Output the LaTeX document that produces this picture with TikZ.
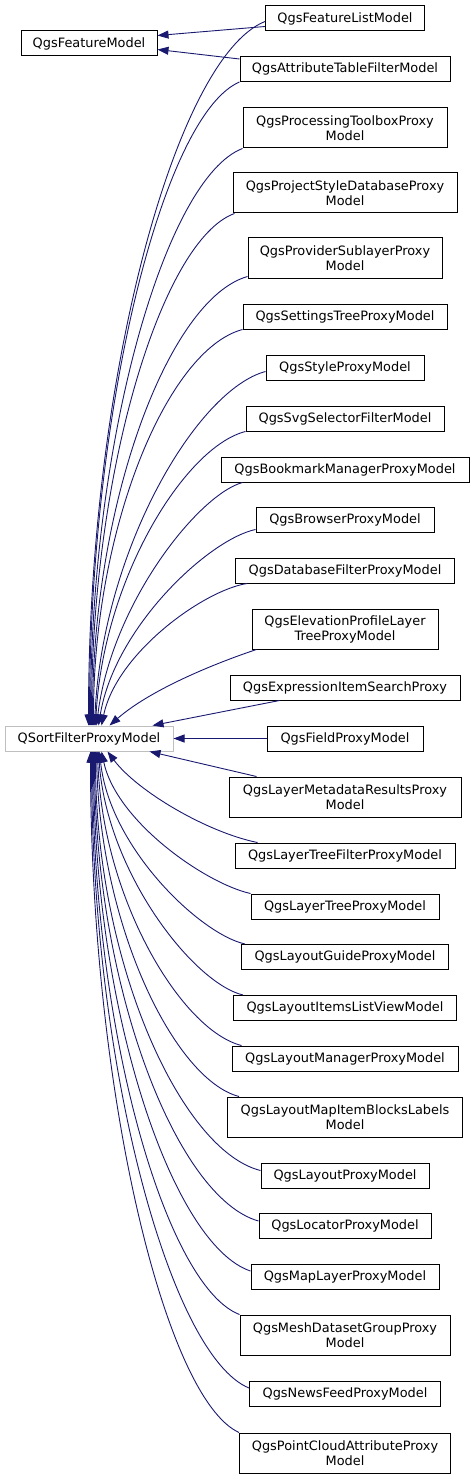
\documentclass[tikz,border=0pt]{standalone}
\usepackage{fontspec}
\setmainfont{DejaVu Sans}
\usetikzlibrary{arrows.meta,calc}
\definecolor{dxnavy}{HTML}{191970}
\definecolor{dxgray}{HTML}{BFBFBF}

\begin{document}
\begin{tikzpicture}[x=1pt, y=-1pt,
    cls/.style={draw=black, fill=white, line width=1pt, align=center, inner sep=0pt,
       font=\fontsize{12.9}{15}\selectfont, minimum height=25pt},
    inherit/.style={draw=dxnavy, line width=0.9pt, -{Triangle[length=11pt,width=8pt]}}]
    \useasboundingbox (0,0) rectangle (475,1479);
    % base classes
    \node[cls] (fm)   at (89,43.5)  [minimum width=136pt] {QgsFeatureModel};
    \node[cls, draw=dxgray] (sfpm) at (89,738.5) [minimum width=168pt] {QSortFilterProxyModel};
    % derived classes
    \node[cls] (featlist)   at (345,18.5)  [minimum width=159pt] {QgsFeatureListModel};
    \node[cls] (attrtable)  at (345,69)    [minimum width=210pt] {QgsAttributeTableFilterModel};
    \node[cls] (proctool)   at (345,128)   [minimum width=204pt, minimum height=40pt] {QgsProcessingToolboxProxy\\Model};
    \node[cls] (projstyle)  at (345,193)   [minimum width=224pt, minimum height=40pt] {QgsProjectStyleDatabaseProxy\\Model};
    \node[cls] (provsub)    at (345,258)   [minimum width=194pt, minimum height=40pt] {QgsProviderSublayerProxy\\Model};
    \node[cls] (settree)    at (345,316.5) [minimum width=204pt] {QgsSettingsTreeProxyModel};
    \node[cls] (style)      at (345,367.5) [minimum width=158pt] {QgsStyleProxyModel};
    \node[cls] (svgsel)     at (345,418.5) [minimum width=198pt] {QgsSvgSelectorFilterModel};
    \node[cls] (bookmark)   at (345,469.5) [minimum width=248pt] {QgsBookmarkManagerProxyModel};
    \node[cls] (browser)    at (345,519.5) [minimum width=178pt] {QgsBrowserProxyModel};
    \node[cls] (dbfilter)   at (345,570.5) [minimum width=219pt] {QgsDatabaseFilterProxyModel};
    \node[cls] (elevtree)   at (345,629)   [minimum width=186pt, minimum height=40pt] {QgsElevationProfileLayer\\TreeProxyModel};
    \node[cls] (exprsearch) at (345,687.5) [minimum width=230pt] {QgsExpressionItemSearchProxy};
    \node[cls] (field)      at (345,738.5) [minimum width=156pt] {QgsFieldProxyModel};
    \node[cls] (laymeta)    at (345,797)   [minimum width=232pt, minimum height=40pt] {QgsLayerMetadataResultsProxy\\Model};
    \node[cls] (ltfilter)   at (345,855.5) [minimum width=220pt] {QgsLayerTreeFilterProxyModel};
    \node[cls] (ltproxy)    at (345,906.5) [minimum width=188pt] {QgsLayerTreeProxyModel};
    \node[cls] (loguide)    at (345,957)   [minimum width=207pt] {QgsLayoutGuideProxyModel};
    \node[cls] (loitems)    at (345,1008)  [minimum width=223pt] {QgsLayoutItemsListViewModel};
    \node[cls] (lomanager)  at (345,1058.5)[minimum width=226pt] {QgsLayoutManagerProxyModel};
    \node[cls] (lomapitem)  at (345,1117)  [minimum width=235pt, minimum height=40pt] {QgsLayoutMapItemBlocksLabels\\Model};
    \node[cls] (loproxy)    at (345,1175.5)[minimum width=168pt] {QgsLayoutProxyModel};
    \node[cls] (locator)    at (345,1226)  [minimum width=172pt] {QgsLocatorProxyModel};
    \node[cls] (maplayer)   at (345,1277)  [minimum width=188pt] {QgsMapLayerProxyModel};
    \node[cls] (meshgroup)  at (345,1335)  [minimum width=210pt, minimum height=40pt] {QgsMeshDatasetGroupProxy\\Model};
    \node[cls] (newsfeed)   at (345,1394)  [minimum width=191pt] {QgsNewsFeedProxyModel};
    \node[cls] (pcattr)     at (345,1453)  [minimum width=211pt, minimum height=40pt] {QgsPointCloudAttributeProxy\\Model};

    % feature model
    \draw[inherit] ($(featlist.west)+(0,8)$) -- ($(fm.east)+(0,-8)$);
    \draw[inherit] ($(attrtable.west)+(0,-10)$) -- ($(fm.east)+(0,6)$);

    % upper fan into QSortFilterProxyModel
    \draw[inherit] ($(featlist.west)+(0,3)$) .. controls +(-88,35) and +(0,-352) .. ($(sfpm.north west)+(84,0)$);
    \draw[inherit] (attrtable.south west) .. controls +(-75,32) and +(0,-323) .. ($(sfpm.north west)+(85,0)$);
    \draw[inherit] (proctool.south west) .. controls +(-76,29) and +(0,-290) .. ($(sfpm.north west)+(86,0)$);
    \draw[inherit] ($(projstyle.south west)+(2,0)$) .. controls +(-72,26) and +(0,-256) .. ($(sfpm.north west)+(87,0)$);
    \draw[inherit] ($(provsub.south west)+(0,-2)$) .. controls +(-78,22) and +(0,-225) .. ($(sfpm.north west)+(88,0)$);
    \draw[inherit] (settree.south west) .. controls +(-75,20) and +(0,-198) .. ($(sfpm.north west)+(89,0)$);
    \draw[inherit] ($(style.west)+(0,4)$) .. controls +(-68,18) and +(8,-177) .. ($(sfpm.north west)+(90,0)$);
    \draw[inherit] (svgsel.south west) .. controls +(-60,15) and +(8,-148) .. ($(sfpm.north west)+(91,0)$);
    \draw[inherit] ($(bookmark.south west)+(22,0)$) .. controls +(-44,12) and +(15,-122) .. ($(sfpm.north west)+(92,0)$);
    \draw[inherit] ($(browser.west)+(0,10)$) .. controls +(-47,10) and +(16,-98) .. ($(sfpm.north west)+(94,0)$);
    \draw[inherit] ($(dbfilter.south west)+(12,0)$) .. controls +(-44,7) and +(15,-72) .. ($(sfpm.north west)+(97,0)$);
    \draw[inherit] ($(elevtree.south west)+(5,0)$) .. controls +(-45,15) and +(40,-35) .. ($(sfpm.north west)+(105,0)$);
    \draw[inherit] ($(exprsearch.south west)+(50,0)$) -- ($(sfpm.north west)+(148,0)$);
    \draw[inherit] (field.west) -- (sfpm.east);

    % lower fan into QSortFilterProxyModel
    \draw[inherit] ($(laymeta.north west)+(28,0)$) -- ($(sfpm.south west)+(145,0)$);
    \draw[inherit] ($(ltfilter.north west)+(23,0)$) .. controls +(-50,-10) and +(30,40) .. ($(sfpm.south west)+(103,0)$);
    \draw[inherit] (ltproxy.north west) .. controls +(-45,-10) and +(15,70) .. ($(sfpm.south west)+(97,0)$);
    \draw[inherit] ($(loguide.north west)+(4,0)$) .. controls +(-45,-10) and +(10,96) .. ($(sfpm.south west)+(95,0)$);
    \draw[inherit] ($(loitems.north west)+(10,0)$) .. controls +(-50,-12) and +(8,120) .. ($(sfpm.south west)+(94,0)$);
    \draw[inherit] ($(lomanager.north west)+(10,0)$) .. controls +(-60,-15) and +(5,148) .. ($(sfpm.south west)+(93,0)$);
    \draw[inherit] ($(lomapitem.north west)+(12,0)$) .. controls +(-65,-17) and +(3,173) .. ($(sfpm.south west)+(92,0)$);
    \draw[inherit] ($(loproxy.west)+(0,-5)$) .. controls +(-80,-20) and +(0,210) .. ($(sfpm.south west)+(91,0)$);
    \draw[inherit] ($(locator.west)+(0,-5)$) .. controls +(-82,-23) and +(0,235) .. ($(sfpm.south west)+(90,0)$);
    \draw[inherit] ($(maplayer.west)+(0,-6)$) .. controls +(-78,-26) and +(0,260) .. ($(sfpm.south west)+(89,0)$);
    \draw[inherit] (meshgroup.north west) .. controls +(-73,-28) and +(0,282) .. ($(sfpm.south west)+(88,0)$);
    \draw[inherit] ($(newsfeed.west)+(0,-6)$) .. controls +(-78,-32) and +(0,318) .. ($(sfpm.south west)+(87,0)$);
    \draw[inherit] (pcattr.north west) .. controls +(-74,-34) and +(0,341) .. ($(sfpm.south west)+(86,0)$);
  \end{tikzpicture}
\end{document}
